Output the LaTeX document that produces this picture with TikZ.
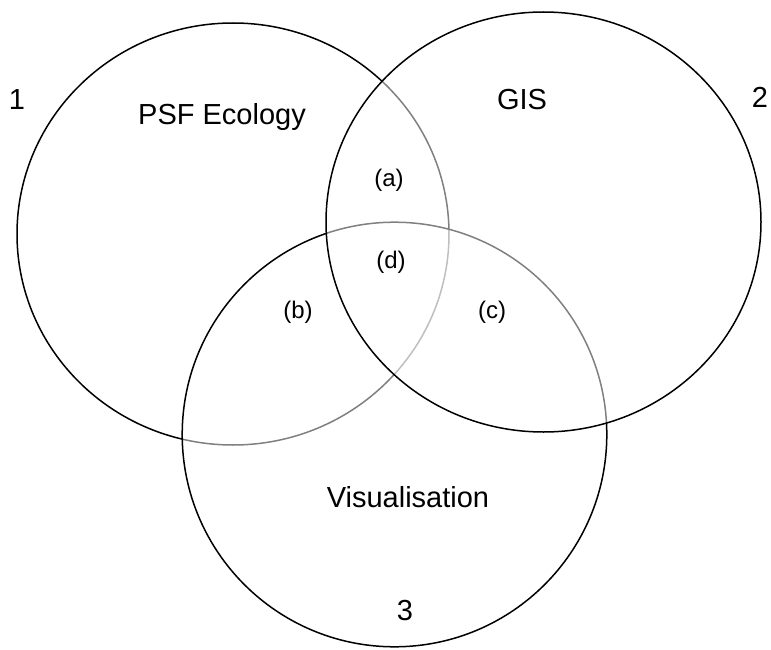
\documentclass[tikz,border=0pt]{standalone}
\usepackage{fontspec}
\setmainfont{Liberation Sans}
\begin{document}
\begin{tikzpicture}[x=1pt,y=-1pt,
  ring/.style={line width=1.5pt,draw=black},
  veil/.style={fill=white,fill opacity=0.5},
  big/.style={font=\fontsize{29}{34}\selectfont,inner sep=0pt},
  small/.style={font=\fontsize{24}{28}\selectfont,inner sep=0pt}]
\useasboundingbox (0,0) rectangle (771,650);
\coordinate (c1) at (233,234);
\coordinate (c2) at (543.5,222);
\coordinate (c3) at (394.5,434.5);
% circle 1
\draw[ring] (c1) ellipse [x radius=216,y radius=211];
% circle 3 overlays circle 1
\fill[veil] (c3) circle [radius=212.3];
\draw[ring] (c3) circle [radius=212.3];
% circle 2 overlays circles 1 and 3
\fill[veil] (c2) ellipse [x radius=217.5,y radius=210];
\draw[ring] (c2) ellipse [x radius=217.5,y radius=210];
% labels
\node[big] (n1) at (17,100) {1};
\node[big] (n2) at (760,97) {2};
\node[big] (n3) at (405,611) {3};
\node[big] (psf) at (222,117) {PSF Ecology};
\node[big] (gis) at (522,100) {GIS};
\node[big] (vis) at (408,497) {Visualisation};
\node[small] (la) at (389,180) {(a)};
\node[small] (ld) at (391,262) {(d)};
\node[small] (lb) at (298,312) {(b)};
\node[small] (lc) at (492,312) {(c)};
\end{tikzpicture}
\end{document}
